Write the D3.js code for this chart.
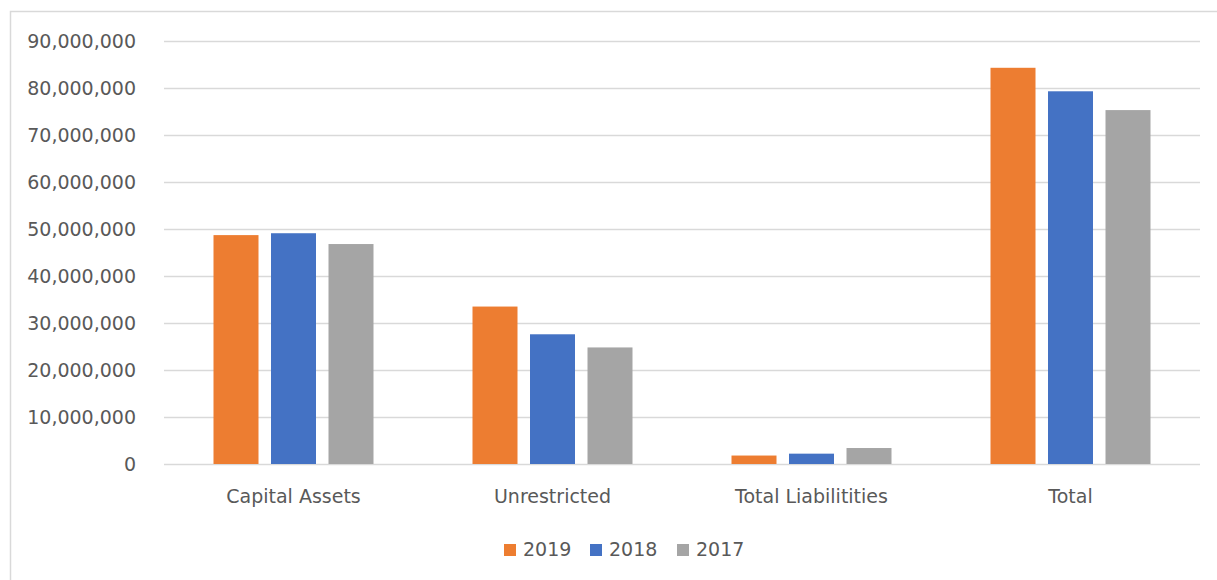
<!DOCTYPE html>
<html>
<head>
<meta charset="utf-8">
<script src="https://cdn.jsdelivr.net/npm/d3@7"></script>
<style>
  html, body { margin: 0; padding: 0; background: #ffffff; }
  svg { display: block; }
  text { font-family: "DejaVu Sans", sans-serif; fill: #595959; }
</style>
</head>
<body>
<svg id="chart" width="1217" height="580"></svg>
<script>
// Net position by component, three fiscal years
const categories = ["Capital Assets", "Unrestricted", "Total Liabilitities", "Total"];
const seriesNames = ["2019", "2018", "2017"];
const values2019 = [48700000, 33500000, 1800000, 84300000];
const values2018 = [49100000, 27600000, 2200000, 79300000];
const values2017 = [46800000, 24800000, 3400000, 75300000];
const yTicks = [0, 10000000, 20000000, 30000000, 40000000, 50000000, 60000000, 70000000, 80000000, 90000000];
const colors = ["#ED7D31", "#4472C4", "#A5A5A5"];

const seriesValues = [values2019, values2018, values2017];

const svg = d3.select("#chart");
const W = 1217, H = 580;

// Chart frame
svg.append("rect")
  .attr("x", 10.5).attr("y", 11.5)
  .attr("width", W + 10).attr("height", H + 10)
  .attr("fill", "#ffffff")
  .attr("stroke", "#d9d9d9").attr("stroke-width", 1.5);

const plot = { left: 164, right: 1200, top: 41, bottom: 464 };

const y = d3.scaleLinear().domain([0, 90000000]).range([plot.bottom, plot.top]);
const x0 = d3.scaleBand().domain(categories).range([plot.left, plot.right]).padding(0);
const groupWidth = 160;
const x1 = d3.scaleBand().domain(seriesNames)
  .range([0, groupWidth]).paddingInner(0.2174).paddingOuter(0);

const fmt = d3.format(",");

// Gridlines
const yAxis = d3.axisLeft(y)
  .tickValues(yTicks)
  .tickSize(-(plot.right - plot.left))
  .tickPadding(28)
  .tickFormat(d => fmt(d));

const gy = svg.append("g")
  .attr("transform", `translate(${plot.left},0)`)
  .call(yAxis);
gy.select(".domain").remove();
gy.selectAll(".tick line").attr("stroke", "#d9d9d9").attr("stroke-width", 1.5);
gy.selectAll(".tick text")
  .attr("font-size", 19)
  .attr("dy", "0.36em")
  .style("fill", "#595959");

// Bars
const groups = svg.append("g").selectAll("g")
  .data(categories)
  .join("g")
  .attr("transform", d => `translate(${x0(d) + x0.bandwidth() / 2 - groupWidth / 2},0)`);

groups.selectAll("rect")
  .data((c, ci) => seriesNames.map((s, si) => ({ s, si, v: seriesValues[si][ci] })))
  .join("rect")
  .attr("x", d => x1(d.s))
  .attr("width", x1.bandwidth())
  .attr("y", d => y(d.v))
  .attr("height", d => y(0) - y(d.v))
  .attr("fill", d => colors[d.si]);

// Category axis
const xAxis = d3.axisBottom(x0).tickSize(0).tickPadding(26);
const gx = svg.append("g")
  .attr("transform", `translate(0,${plot.bottom})`)
  .call(xAxis);
gx.select(".domain").remove();
gx.selectAll(".tick text")
  .attr("font-size", 19)
  .style("fill", "#595959");

// Legend
const legendX = [504, 590, 677];
const legend = svg.append("g");
seriesNames.forEach((s, i) => {
  legend.append("rect")
    .attr("x", legendX[i]).attr("y", 544)
    .attr("width", 12).attr("height", 12)
    .attr("fill", colors[i]);
  legend.append("text")
    .attr("x", legendX[i] + 19).attr("y", 556)
    .attr("font-size", 19)
    .text(s);
});
</script>
</body>
</html>
